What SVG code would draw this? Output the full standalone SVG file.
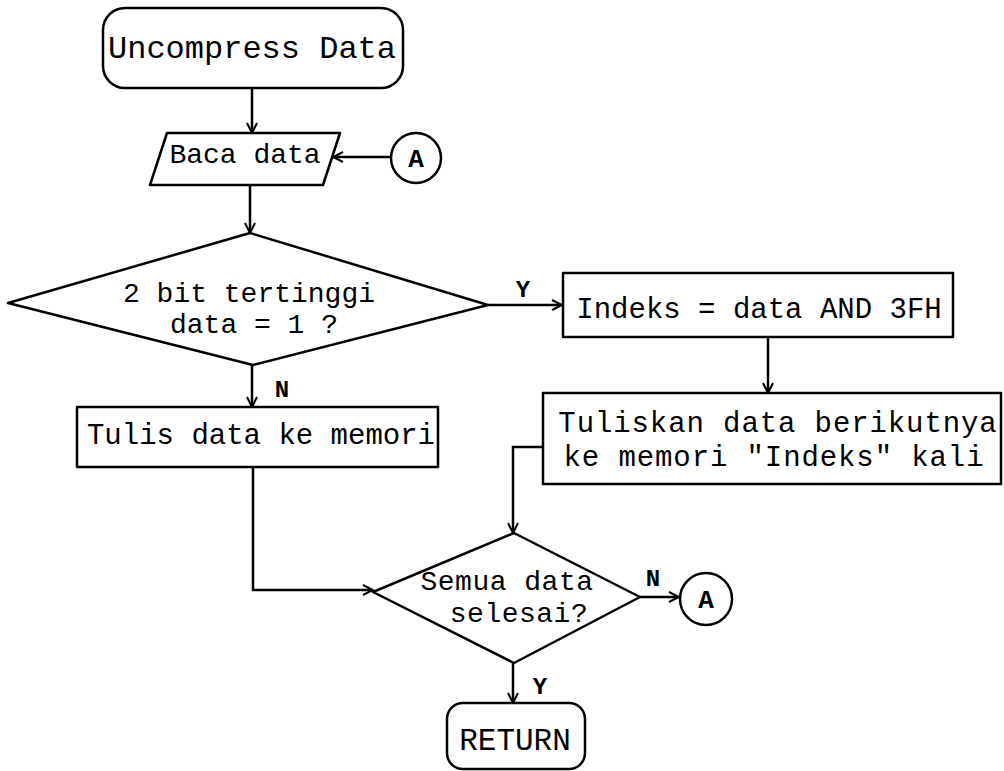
<svg xmlns="http://www.w3.org/2000/svg" width="1004" height="771" viewBox="0 0 1004 771">
  <style>
    .shape { fill: #ffffff; stroke: #000000; stroke-width: 2.5; stroke-linejoin: round; }
    .wire { fill: none; stroke: #000000; stroke-width: 2.5; }
    .txt { font-family: "Liberation Mono", "DejaVu Sans Mono", monospace; fill: #000000; text-anchor: middle; }
    .lbl { font-family: "Liberation Mono", "DejaVu Sans Mono", monospace; font-weight: bold; font-size: 24px; fill: #000000; text-anchor: middle; }
    .ref { font-family: "Liberation Mono", "DejaVu Sans Mono", monospace; font-weight: bold; font-size: 26px; fill: #000000; text-anchor: middle; }
  </style>
  <defs>
    <marker id="arrow" viewBox="0 0 12 12" refX="11" refY="6" markerWidth="12" markerHeight="12" markerUnits="userSpaceOnUse" orient="auto">
      <path d="M1,1 L11,6 L1,11" fill="none" stroke="#000000" stroke-width="2"/>
    </marker>
  </defs>
  <rect width="1004" height="771" fill="#ffffff"/>

  <!-- connectors -->
  <g id="connectors">
    <line class="wire" x1="252" y1="88" x2="252" y2="133" marker-end="url(#arrow)"/>
    <line class="wire" x1="391" y1="157" x2="333" y2="157" marker-end="url(#arrow)"/>
    <line class="wire" x1="250" y1="185" x2="250" y2="233" marker-end="url(#arrow)"/>
    <line class="wire" x1="488" y1="305" x2="562" y2="305" marker-end="url(#arrow)"/>
    <line class="wire" x1="252" y1="365" x2="252" y2="407" marker-end="url(#arrow)"/>
    <line class="wire" x1="768" y1="337" x2="768" y2="393" marker-end="url(#arrow)"/>
    <polyline class="wire" points="543,447 513,447 513,533" marker-end="url(#arrow)"/>
    <polyline class="wire" points="253,467 253,590 373,590" marker-end="url(#arrow)"/>
    <line class="wire" x1="640" y1="597" x2="679" y2="597" marker-end="url(#arrow)"/>
    <line class="wire" x1="513" y1="663" x2="513" y2="703" marker-end="url(#arrow)"/>
    <text class="lbl" x="523" y="297">Y</text>
    <text class="lbl" x="282" y="397">N</text>
    <text class="lbl" x="653" y="586">N</text>
    <text class="lbl" x="540" y="694">Y</text>
  </g>

  <g id="start">
    <rect class="shape" x="103" y="8" width="300" height="80" rx="22" ry="22"/>
    <text class="txt" x="252" y="58" font-size="32">Uncompress Data</text>
  </g>

  <g id="read-data">
    <polygon class="shape" points="167,133 340,133 323,185 150,185"/>
    <text class="txt" x="245" y="163" font-size="28">Baca data</text>
  </g>

  <g id="connector-a-in">
    <circle class="shape" cx="416" cy="158" r="25"/>
    <text class="ref" x="416" y="167">A</text>
  </g>

  <g id="check-bits">
    <polygon class="shape" points="250,233 488,305 253,365 8,303"/>
    <text class="txt" x="249" y="302" font-size="28">2 bit tertinggi</text>
    <text class="txt" x="254" y="333" font-size="28">data = 1 ?</text>
  </g>

  <g id="set-index">
    <rect class="shape" x="563" y="273" width="390" height="64"/>
    <text class="txt" x="759" y="318" font-size="29">Indeks = data AND 3FH</text>
  </g>

  <g id="write-repeat">
    <rect class="shape" x="543" y="393" width="458" height="91"/>
    <text class="txt" x="778" y="432" font-size="29" letter-spacing="0.9">Tuliskan data berikutnya</text>
    <text class="txt" x="774" y="466" font-size="29" letter-spacing="0.9">ke memori "Indeks" kali</text>
  </g>

  <g id="write-data">
    <rect class="shape" x="77" y="407" width="361" height="60"/>
    <text class="txt" x="261" y="444" font-size="29">Tulis data ke memori</text>
  </g>

  <g id="check-done">
    <polygon class="shape" points="514,533 640,597 514,663 373,592"/>
    <text class="txt" x="507" y="590" font-size="28" letter-spacing="0.5">Semua data</text>
    <text class="txt" x="519" y="622" font-size="28" letter-spacing="0.5">selesai?</text>
  </g>

  <g id="connector-a-out">
    <circle class="shape" cx="706" cy="599" r="26"/>
    <text class="ref" x="706" y="608">A</text>
  </g>

  <g id="return">
    <rect class="shape" x="447" y="703" width="138" height="66" rx="16" ry="16"/>
    <text class="txt" x="515" y="750" font-size="31">RETURN</text>
  </g>
</svg>
